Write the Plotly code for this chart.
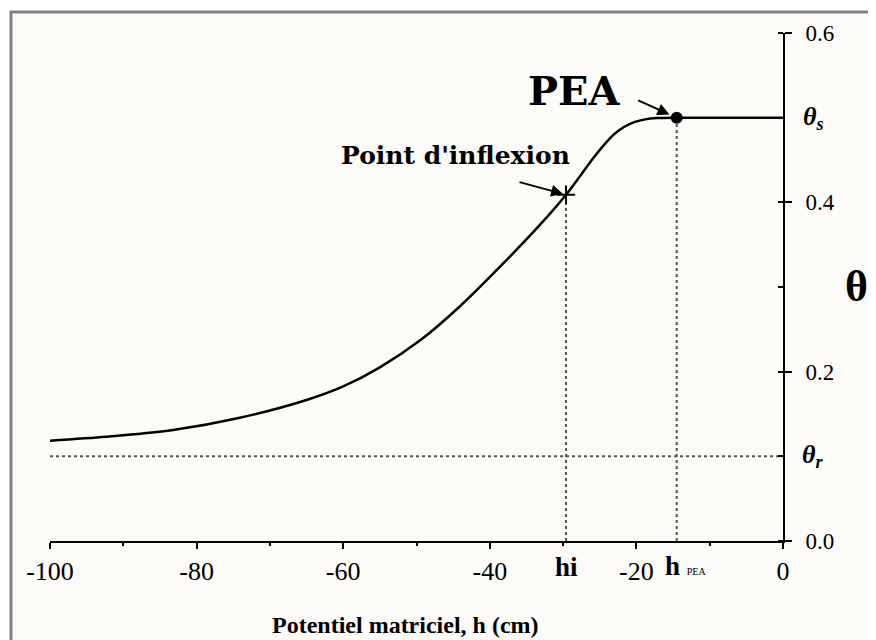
import plotly.graph_objects as go

# --- data ---
h_values = [-100, -92.3, -83.2, -74.1, -65, -60, -55, -49.5, -44.1, -38.6, -33.2, -29.6, -25.9, -24.5, -23.1, -21.7, -20.2, -18.8, -17.2, -14.5, 0]
theta_values = [0.1185, 0.123, 0.131, 0.1455, 0.1665, 0.1825, 0.205, 0.237, 0.277, 0.324, 0.373, 0.409, 0.452, 0.467, 0.480, 0.489, 0.495, 0.498, 0.4995, 0.5, 0.5]

theta_r = 0.1
theta_s = 0.5
h_i = -29.6
theta_i = 0.409
h_pea = -14.5

x_ticks = [-100, -80, -60, -40, -20, 0]
x_tick_labels = ["-100", "-80", "-60", "-40", "-20", "0"]
y_ticks = [0.0, 0.2, 0.4, 0.6]
y_tick_labels = ["0.0", "0.2", "0.4", "0.6"]

SERIF = "Liberation Serif"
SERIF2 = "DejaVu Serif"
OFF = 8  # page body margin
W, H = 868, 632
ML, MT = 42, 25
PW, PH = 733, 508
MR, MB = W - ML - PW, H - MT - PH


def px(xp):
    return (xp - OFF - ML) / PW


def py(yp):
    return (MT + PH + OFF - yp) / PH


fig = go.Figure()

dot = dict(color="#555", width=2, dash="dot")
fig.add_trace(go.Scatter(x=[-100, 0], y=[theta_r, theta_r], mode="lines", line=dot, hoverinfo="skip"))
fig.add_trace(go.Scatter(x=[h_i, h_i], y=[0, theta_i], mode="lines", line=dot, hoverinfo="skip"))
fig.add_trace(go.Scatter(x=[h_pea, h_pea], y=[0, theta_s], mode="lines", line=dot, hoverinfo="skip"))

# retention curve
fig.add_trace(go.Scatter(x=h_values, y=theta_values, mode="lines",
                         line=dict(color="black", width=2.5, shape="spline", smoothing=0.8)))

# inflection point
fig.add_trace(go.Scatter(x=[h_i], y=[theta_i], mode="markers",
                         marker=dict(symbol="cross-thin", size=13, line=dict(color="black", width=2))))
# PEA point
fig.add_trace(go.Scatter(x=[h_pea], y=[theta_s], mode="markers",
                         marker=dict(symbol="circle", size=12, color="black")))

fig.update_layout(
    width=W, height=H,
    margin=dict(l=ML, r=MR, t=MT, b=MB),
    paper_bgcolor="white",
    plot_bgcolor="rgba(0,0,0,0)",
    showlegend=False,
    font=dict(family=SERIF, color="black"),
)

fig.update_xaxes(
    range=[-100, 0], tickvals=x_ticks, ticktext=x_tick_labels,
    showline=True, linecolor="black", linewidth=2, showgrid=False, zeroline=False,
    ticks="outside", ticklen=6, tickwidth=2, tickcolor="black",
    tickfont=dict(family=SERIF, size=26, color="black"),
    minor=dict(dtick=10, ticks="outside", ticklen=3, tickwidth=1.5, tickcolor="black"),
)
fig.update_yaxes(
    range=[0, 0.6], side="right", tickvals=y_ticks, ticktext=y_tick_labels,
    showline=True, linecolor="black", linewidth=2, showgrid=False, zeroline=False,
    ticks="outside", ticklen=7, tickwidth=1.5, tickcolor="black", ticklabelstandoff=9,
    tickfont=dict(family=SERIF, size=23, color="black"),
    minor=dict(dtick=0.1, ticks="inside", ticklen=5, tickwidth=1.5, tickcolor="black"),
)

# background panel with gray frame
fig.add_shape(type="rect", xref="paper", yref="paper",
              x0=px(11), x1=px(900), y0=py(680), y1=py(12),
              fillcolor="#fcfbf7", line=dict(color="#808080", width=3), layer="below")

C = dict(xanchor="center", yanchor="middle", showarrow=False)
ann = []
ann.append(dict(x=px(405), y=py(625), xref="paper", yref="paper",
                text="<b>Potentiel matriciel, h (cm)</b>", font=dict(size=24, family=SERIF), **C))
ann.append(dict(x=px(856), y=py(286), xref="paper", yref="paper",
                text="<b>θ</b>", font=dict(size=44, family=SERIF), **C))
ann.append(dict(x=px(813), y=theta_s, xref="paper", yref="y",
                text="<b><i>θ<sub>s</sub></i></b>", font=dict(size=26, family=SERIF), **C))
ann.append(dict(x=px(813), y=theta_r, xref="paper", yref="y",
                text="<b><i>θ<sub>r</sub></i></b>", font=dict(size=26, family=SERIF), **C))
ann.append(dict(x=h_i, y=py(567), xref="x", yref="paper",
                text="<b>hi</b>", font=dict(size=27, family=SERIF), **C))
ann.append(dict(x=px(663), y=py(566), xref="paper", yref="paper", xanchor="left", yanchor="middle", showarrow=False,
                text="<b>h</b> <span style='font-size:10px'>PEA</span>", font=dict(size=27, family=SERIF)))
ann.append(dict(x=px(455), y=py(155), xref="paper", yref="paper",
                text="<b>Point d'inflexion</b>", font=dict(size=25, family=SERIF2), **C))
ann.append(dict(x=px(574), y=py(90), xref="paper", yref="paper",
                text="<b>PEA</b>", font=dict(size=40, family=SERIF2), **C))
ann.append(dict(x=h_i, y=theta_i, xref="x", yref="y", text="", showarrow=True,
                ax=-48, ay=-13, arrowhead=2, arrowsize=1.2, arrowwidth=2, arrowcolor="black", standoff=3))
ann.append(dict(x=h_pea, y=theta_s, xref="x", yref="y", text="", showarrow=True,
                ax=-40, ay=-18, arrowhead=2, arrowsize=1.2, arrowwidth=2, arrowcolor="black", standoff=8))
fig.update_layout(annotations=ann)

fig.write_html("out.html")
